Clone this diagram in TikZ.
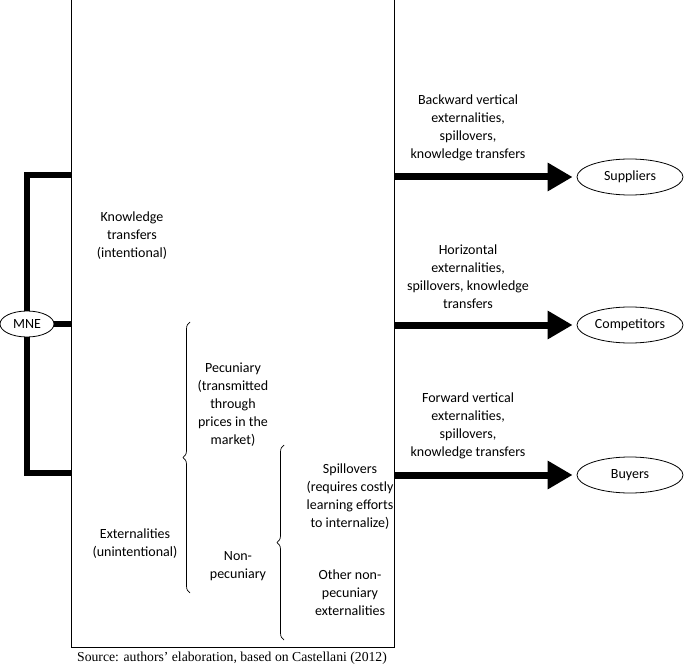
\documentclass[tikz,border=0pt]{standalone}
\usepackage{fontspec}
\setmainfont{Carlito}
\newfontfamily\sourcefont{Liberation Serif}
\usetikzlibrary{arrows.meta,shapes.geometric,decorations.pathreplacing}
\tikzset{>={Triangle[length=25pt,width=27pt]}, % big solid arrow heads
  box/.style={draw, line width=0.8pt},
  link/.style={line width=6pt},
  flow/.style={->, line width=7pt, shorten >=4pt},
  party/.style={
    draw,
    ellipse,
    line width=0.8pt,
    fill=white,
    minimum width=106pt,
    minimum height=36pt,
    inner sep=0pt,
    font={\fontsize{14}{18}\selectfont}
  },
  note/.style={align=center, inner sep=0pt, font={\fontsize{14}{18}\selectfont}},
  curly/.style={decorate, decoration={brace, amplitude=7pt}, line width=0.7pt},
}

\begin{document}
\begin{tikzpicture}[x=1pt,y=-1pt]
    \useasboundingbox (0,0) rectangle (685,668);

    % the firm's box, open at the top
    \draw [box] (71,0) -- (71,647) -- (394,647) -- (394,0);
    \coordinate (kt) at (71,175);
    \coordinate (mid) at (71,324);
    \coordinate (ex) at (71,473);
    \coordinate (s) at (394,177);
    \coordinate (c) at (394,325);
    \coordinate (b) at (394,475);

    \node [party, minimum width=54pt, minimum height=26pt] (mne) at (27,324) {MNE};
    \draw [link] (kt) -| (mne.north);
    \draw [link] (ex) -| (mne.south);
    \draw [link] (mne.east) -- (mid);

    \node [note] (know) at (132,236) {Knowledge\\transfers\\(intentional)};
    \node [note] (ext) at (135,544) {Externalities\\(unintentional)};
    \node [note] (pec) at (233,405) {Pecuniary\\(transmitted\\through\\prices in the\\market)};
    \node [note] (nonpec) at (238,566) {Non-\\pecuniary};
    \node [note] (spill) at (350,497) {Spillovers\\(requires costly\\learning efforts\\to internalize)};
    \node [note] (other) at (350,593) {Other non-\\pecuniary\\externalities};

    \draw [curly] (190,593) -- (190,322);
    \draw [curly] (284,640) -- (284,445);

    \node [party] (sup) at (630,177) {Suppliers};
    \node [party] (comp) at (630,325) {Competitors};
    \node [party] (buy) at (630,475) {Buyers};
    \draw [flow] (s) -- (sup.west);
    \draw [flow] (c) -- (comp.west);
    \draw [flow] (b) -- (buy.west);

    \node [note] (back) at (468,128) {Backward vertical\\externalities,\\spillovers,\\knowledge transfers};
    \node [note] (hor) at (468,277) {Horizontal\\externalities,\\spillovers, knowledge\\transfers};
    \node [note] (fwd) at (468,426) {Forward vertical\\externalities,\\spillovers,\\knowledge transfers};

    \node [font={\sourcefont\fontsize{13.7}{16}\selectfont}] (src) at (232,658)
      {Source: authors’ elaboration, based on Castellani (2012)};
\end{tikzpicture}
\end{document}
